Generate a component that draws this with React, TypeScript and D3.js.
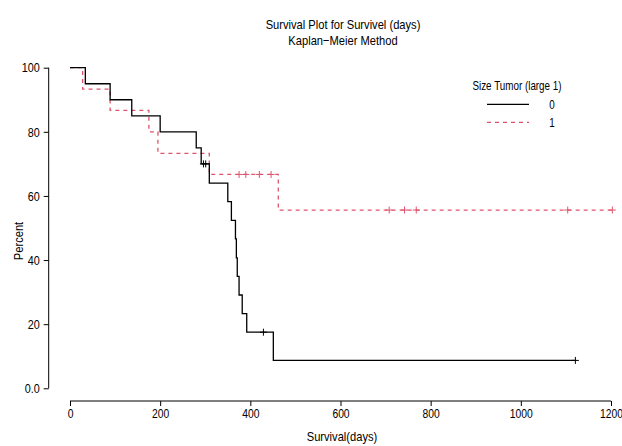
import * as d3 from 'd3';
import React, { useRef, useEffect } from 'react';

// Kaplan-Meier estimates (times in days, survival in percent)
const group0Times = [0, 34, 89, 137, 200, 280, 291, 309, 350, 358, 367, 369, 371, 375, 382, 392, 451];
const group0Surv = [100, 95, 90, 85, 80, 75, 70, 64.0, 58.2, 52.4, 46.6, 40.7, 34.9, 29.1, 23.3, 17.5, 8.7];
const group0Censor = [296, 301, 429, 1121];

const group1Times = [0, 28, 89, 175, 195, 309, 462];
const group1Surv = [100, 93.3, 86.7, 80, 73.3, 66.7, 55.6];
const group1Censor = [375, 390, 420, 446, 708, 742, 768, 1104, 1203];

const xTicks = [0, 200, 400, 600, 800, 1000, 1200];
const yTicks = [0, 20, 40, 60, 80, 100];
const yTickLabels = ['0.0', '20', '40', '60', '80', '100'];
const groupLabels = ['0', '1'];

function SurvivalChart({ width, height }) {
    const ref = useRef();

    var margin = ({ top: 67.7, right: 11, bottom: 57.7, left: 70 })
    var font = "'Liberation Sans', Arial, sans-serif"
    var red = '#DF536B'

    useEffect(() => {
        draw();
    });

    // squeeze text horizontally so Liberation Sans looks like Arial Narrow
    const narrow = (sel, size) => {
        sel.each(function () {
            var t = d3.select(this);
            var tx = +t.attr("x") || 0, ty = +t.attr("y") || 0;
            var prev = t.attr("transform") || "";
            t.attr("x", 0).attr("y", 0)
                .attr("transform", `${prev} translate(${tx},${ty}) scale(0.82,1)`)
                .style("font-family", font)
                .style("font-size", size + "px")
                .attr("fill", "#000");
        });
    };

    const draw = () => {
        const svg = d3.select(ref.current)
            .attr("width", width)
            .attr("height", height);
        svg.selectAll("*").remove();

        var x = d3.scaleLinear()
            .domain([0, 1200])
            .range([margin.left, width - margin.right]);

        var y = d3.scaleLinear()
            .domain([0, 100])
            .range([height - margin.bottom, margin.top]);

        // survival level at a given time (for censor marks)
        const levelAt = (times, surv, t) => {
            var i = d3.bisectRight(times, t) - 1;
            return surv[Math.max(0, i)];
        };

        const stepLine = d3.line()
            .x(d => x(d[0]))
            .y(d => y(d[1]))
            .curve(d3.curveStepAfter);

        const groups = [
            { times: group0Times, surv: group0Surv, censor: group0Censor, color: '#000', dash: null },
            { times: group1Times, surv: group1Surv, censor: group1Censor, color: red, dash: '4,4' },
        ];

        // red first so black sits on top
        groups.slice().reverse().forEach(g => {
            var end = d3.max(g.censor);
            var pts = g.times.map((t, i) => [t, g.surv[i]]);
            pts.push([end, g.surv[g.surv.length - 1]]);

            svg.append("path")
                .datum(pts)
                .attr("d", stepLine)
                .attr("fill", "none")
                .attr("stroke", g.color)
                .attr("stroke-width", 1.3)
                .attr("stroke-dasharray", g.dash);

            svg.append("g")
                .selectAll("path")
                .data(g.censor)
                .enter()
                .append("path")
                .attr("d", t => {
                    var cx = x(t), cy = y(levelAt(g.times, g.surv, t));
                    return `M${cx - 3.5},${cy}H${cx + 3.5}M${cx},${cy - 3.5}V${cy + 3.5}`;
                })
                .attr("stroke", g.color)
                .attr("stroke-width", 1);
        });

        // y axis
        var yAxis = d3.axisLeft(y)
            .tickValues(yTicks)
            .tickFormat((d, i) => yTickLabels[i])
            .tickSize(5)
            .tickPadding(4);

        var yg = svg.append("g")
            .attr("transform", `translate(48.7,0)`)
            .call(yAxis);
        yg.select(".domain").attr("d", `M0,${y(100)}V${y(0)}`);

        // x axis
        var xAxis = d3.axisBottom(x)
            .tickValues(xTicks)
            .tickFormat(d => d)
            .tickSize(5)
            .tickPadding(3);

        var xg = svg.append("g")
            .attr("transform", `translate(0,401)`)
            .call(xAxis);
        xg.select(".domain").attr("d", `M${x(0)},0H${x(1200)}`);

        svg.selectAll(".domain, .tick line").attr("stroke", "#000");
        narrow(yg.selectAll(".tick text"), 13.2);
        narrow(xg.selectAll(".tick text"), 12.6);

        // titles
        var titles = svg.append("g");
        titles.append("text")
            .attr("x", 343).attr("y", 29)
            .attr("text-anchor", "middle")
            .text("Survival Plot for Survivel (days)");
        titles.append("text")
            .attr("x", 343).attr("y", 45)
            .attr("text-anchor", "middle")
            .text("Kaplan\u2212Meier Method");
        titles.append("text")
            .attr("x", 342).attr("y", 441)
            .attr("text-anchor", "middle")
            .text("Survival(days)");
        narrow(titles.selectAll("text"), 13.6);

        // legend
        var legend = svg.append("g");
        legend.append("text")
            .attr("x", 517).attr("y", 90)
            .attr("text-anchor", "middle")
            .text("Size Tumor (large 1)");

        groups.forEach((g, i) => {
            var ly = 104.3 + i * 18;
            svg.append("line")
                .attr("x1", 487).attr("x2", 529)
                .attr("y1", ly).attr("y2", ly)
                .attr("stroke", g.color)
                .attr("stroke-width", 1.3)
                .attr("stroke-dasharray", g.dash);
            legend.append("text")
                .attr("x", 552).attr("y", ly + 4.5)
                .attr("text-anchor", "middle")
                .text(groupLabels[i]);
        });
        narrow(legend.selectAll("text"), 12);

        svg.append("text")
            .attr("text-anchor", "middle")
            .attr("transform", `translate(23,241) rotate(-90) scale(0.82,1)`)
            .style("font-family", font)
            .style("font-size", "13.6px")
            .text("Percent");
    }

    return (
        <svg ref={ref} style={{ position: 'absolute', left: 0, top: 0, background: '#fff' }}>
        </svg>
    )
}

export default function App() {
    return <SurvivalChart width={622} height={446} />;
}
